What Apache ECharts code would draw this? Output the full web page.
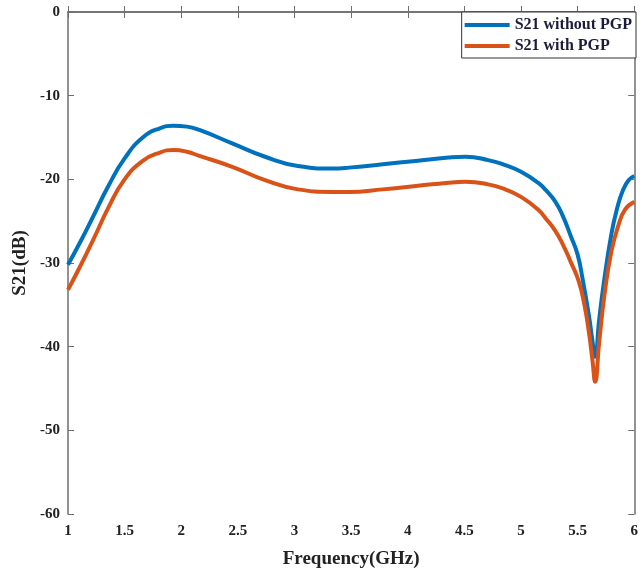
<!DOCTYPE html>
<html>
<head>
<meta charset="utf-8">
<script src="https://cdn.jsdelivr.net/npm/echarts@6/dist/echarts.min.js"></script>
<style>
html, body { margin: 0; padding: 0; background: #fff; }
#chart { width: 641px; height: 578px; }
</style>
</head>
<body>
<div id="chart"></div>
<script>
// S21 vs frequency
var freqBlue = [1.0, 1.1, 1.22, 1.36, 1.5, 1.66, 1.81, 1.93, 2.05, 2.16, 2.45, 2.74, 3.03, 3.33, 3.48, 3.78, 4.07, 4.36, 4.51, 4.71, 4.86, 5.0, 5.15, 5.22, 5.3, 5.37, 5.44, 5.5, 5.545, 5.6, 5.63, 5.655, 5.69, 5.735, 5.8, 5.85, 5.9, 5.95, 6.0];
var s21Without = [-30.2, -27.7, -24.5, -20.7, -17.5, -15.0, -13.9, -13.6, -13.7, -14.1, -15.7, -17.3, -18.4, -18.7, -18.6, -18.2, -17.8, -17.4, -17.3, -17.7, -18.3, -19.1, -20.4, -21.3, -22.6, -24.4, -26.8, -29.0, -32.0, -36.3, -39.2, -41.2, -36.8, -32.0, -26.4, -23.4, -21.3, -20.1, -19.6];

var freqOrange = [1.0, 1.1, 1.22, 1.36, 1.5, 1.66, 1.81, 1.93, 2.05, 2.16, 2.45, 2.74, 3.03, 3.33, 3.48, 3.78, 4.07, 4.36, 4.51, 4.71, 4.86, 5.0, 5.15, 5.22, 5.3, 5.37, 5.44, 5.51, 5.56, 5.6, 5.63, 5.655, 5.69, 5.74, 5.8, 5.86, 5.92, 6.0];
var s21With = [-33.2, -30.6, -27.3, -23.3, -20.0, -17.8, -16.8, -16.5, -16.7, -17.2, -18.5, -20.1, -21.2, -21.5, -21.5, -21.2, -20.8, -20.4, -20.3, -20.6, -21.2, -22.1, -23.6, -24.7, -26.1, -27.8, -29.9, -32.2, -35.0, -38.3, -41.5, -44.2, -39.5, -33.5, -28.5, -25.5, -23.6, -22.7];

function pairs(xs, ys) {
    return xs.map(function (x, i) { return [x, ys[i]]; });
}

var chart = echarts.init(document.getElementById('chart'));
var serif = '"Liberation Serif", "DejaVu Serif", serif';
var axisCol = '#6e6e6e';

var option = {
    animation: false,
    grid: { left: 68, right: 5, top: 12, bottom: 64 },
    legend: {
        orient: 'vertical',
        right: 5,
        top: 12,
        backgroundColor: '#fff',
        borderColor: '#333',
        borderWidth: 1,
        padding: [5, 4, 4, 3],
        itemGap: 5,
        itemWidth: 45,
        itemHeight: 4,
        icon: 'rect',
        textStyle: { fontFamily: serif, fontWeight: 'bold', fontSize: 16, color: '#1c1c3a' },
        data: ['S21 without PGP', 'S21 with PGP']
    },
    xAxis: [{
        type: 'value',
        min: 1, max: 6, interval: 0.5,
        name: 'Frequency(GHz)',
        nameLocation: 'middle',
        nameGap: 36,
        nameTextStyle: { fontFamily: serif, fontWeight: 'bold', fontSize: 19, color: '#222' },
        axisLine: { lineStyle: { color: axisCol, width: 1.5 } },
        axisTick: { inside: true, length: 6, lineStyle: { color: axisCol } },
        axisLabel: { fontFamily: serif, fontWeight: 'bold', fontSize: 15, color: '#222', margin: 10 },
        splitLine: { show: false }
    }, {
        type: 'value', position: 'top',
        min: 1, max: 6, interval: 0.5,
        axisLine: { lineStyle: { color: axisCol, width: 1.5 } },
        axisTick: { inside: true, length: 6, lineStyle: { color: axisCol } },
        axisLabel: { show: false },
        splitLine: { show: false }
    }],
    yAxis: [{
        type: 'value',
        min: -60, max: 0, interval: 10,
        name: 'S21(dB)',
        nameLocation: 'middle',
        nameGap: 38,
        nameTextStyle: { fontFamily: serif, fontWeight: 'bold', fontSize: 19, color: '#222' },
        axisLine: { show: true, lineStyle: { color: axisCol, width: 1.5 } },
        axisTick: { show: true, inside: true, length: 6, lineStyle: { color: axisCol } },
        axisLabel: { fontFamily: serif, fontWeight: 'bold', fontSize: 15, color: '#222', margin: 8 },
        splitLine: { show: false }
    }, {
        type: 'value', position: 'right',
        min: -60, max: 0, interval: 10,
        axisLine: { show: true, lineStyle: { color: axisCol, width: 1.5 } },
        axisTick: { show: true, inside: true, length: 6, lineStyle: { color: axisCol } },
        axisLabel: { show: false },
        splitLine: { show: false }
    }],
    series: [{
        name: 'S21 without PGP',
        type: 'line',
        smooth: 0.5,
        showSymbol: false,
        color: '#0072BD',
        lineStyle: { width: 4, color: '#0072BD' },
        data: pairs(freqBlue, s21Without)
    }, {
        name: 'S21 with PGP',
        type: 'line',
        smooth: 0.5,
        showSymbol: false,
        color: '#D95319',
        lineStyle: { width: 4, color: '#D95319' },
        data: pairs(freqOrange, s21With)
    }]
};

chart.setOption(option);
window.addEventListener('resize', function () {
    chart.resize();
});
</script>
</body>
</html>
